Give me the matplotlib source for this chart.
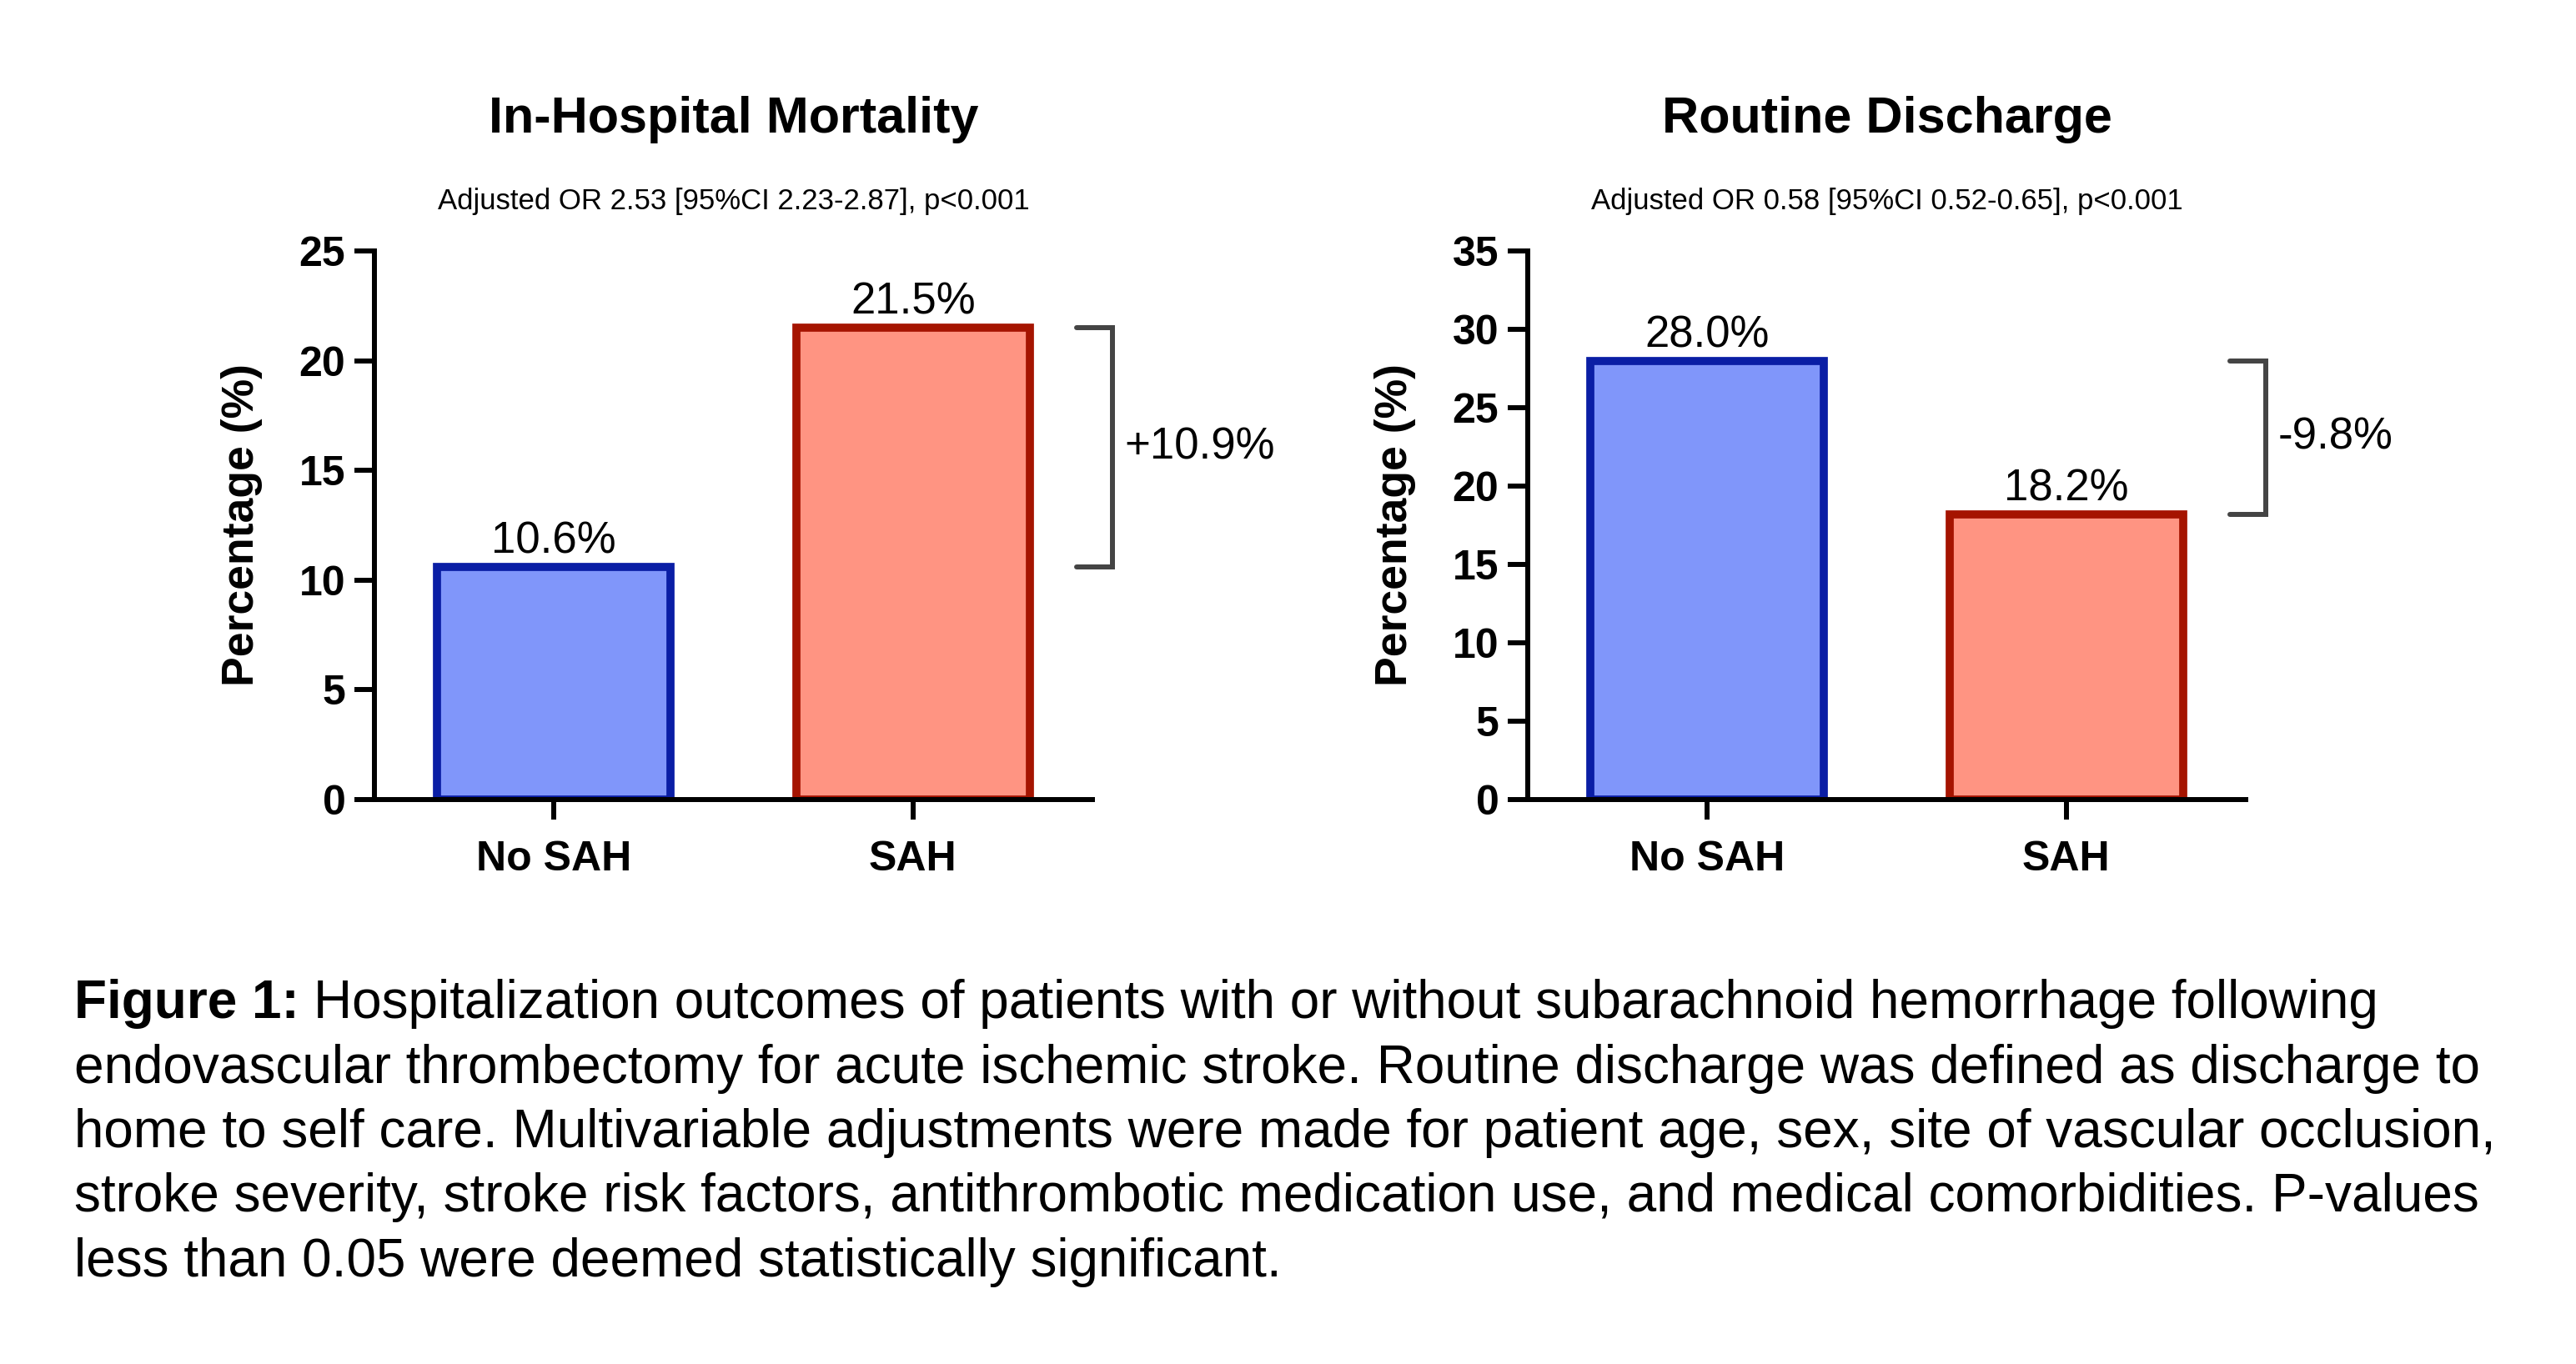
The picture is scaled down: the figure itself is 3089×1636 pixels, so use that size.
import matplotlib.pyplot as plt
import numpy as np

plt.rcParams['font.family'] = ['Liberation Sans', 'DejaVu Sans']

# ---- data ----
groups = ['No SAH', 'SAH']
mortality = [10.6, 21.5]
discharge = [28.0, 18.2]
titles = ['In-Hospital Mortality', 'Routine Discharge']
subtitles = ['Adjusted OR 2.53 [95%CI 2.23-2.87], p<0.001',
             'Adjusted OR 0.58 [95%CI 0.52-0.65], p<0.001']
diff_labels = ['+10.9%', '-9.8%']
ylims = [25, 35]

fill_colors = ['#8096FA', '#FF9482']
edge_colors = ['#0A1EA5', '#A51400']
bracket_color = '#444444'

caption_lines = [
    'Hospitalization outcomes of patients with or without subarachnoid hemorrhage following',
    'endovascular thrombectomy for acute ischemic stroke. Routine discharge was defined as discharge to',
    'home to self care. Multivariable adjustments were made for patient age, sex, site of vascular occlusion,',
    'stroke severity, stroke risk factors, antithrombotic medication use, and medical comorbidities. P-values',
    'less than 0.05 were deemed statistically significant.',
]

W, H = 3089, 1636
fig = plt.figure(figsize=(W / 100, H / 100), dpi=100)

axes_boxes = [
    [449 / W, 1 - 959 / H, (1310 - 449) / W, (959 - 301) / H],
    [1832 / W, 1 - 959 / H, (2693 - 1832) / W, (959 - 301) / H],
]

for k, vals in enumerate([mortality, discharge]):
    ax = fig.add_axes(axes_boxes[k])
    x = np.arange(len(groups))
    ax.bar(x, vals, width=0.65, color=fill_colors, edgecolor=edge_colors,
           linewidth=7, zorder=2)
    for xi, v in zip(x, vals):
        ax.annotate(f'{v:.1f}%', xy=(xi, v), xytext=(0, 4), textcoords='offset points',
                    ha='center', va='bottom', fontsize=38)

    ax.set_xlim(-0.5, 1.5)
    ax.set_ylim(0, ylims[k])
    ax.set_yticks(np.arange(0, ylims[k] + 1, 5))
    ax.set_xticks(x)
    ax.set_xticklabels(groups)
    for lab in ax.get_xticklabels() + ax.get_yticklabels():
        lab.set_fontweight('bold')
    ax.tick_params(axis='both', labelsize=36, width=4.3, length=17)
    ax.tick_params(axis='y', pad=8)
    ax.tick_params(axis='x', pad=18)
    for side in ['top', 'right']:
        ax.spines[side].set_visible(False)
    for side in ['left', 'bottom']:
        ax.spines[side].set_linewidth(4.3)

    ax.set_ylabel('Percentage (%)', fontsize=38.5, fontweight='bold')
    ax.yaxis.set_label_coords(-0.156, 0.5)

    # bracket showing difference
    lo, hi = min(vals), max(vals)
    bx, bl = 1.555, 1.457
    ax.plot([bl, bx, bx, bl], [hi, hi, lo, lo], color=bracket_color, lw=4.3,
            solid_capstyle='round', solid_joinstyle='miter', clip_on=False)
    ax.text(1.59, (lo + hi) / 2, diff_labels[k], fontsize=38, ha='left', va='center')

    cx = axes_boxes[k][0] + axes_boxes[k][2] / 2
    fig.text(cx, 1 - 144 / H, titles[k], ha='center', va='center',
             fontsize=44, fontweight='bold')
    fig.text(cx, 1 - 242 / H, subtitles[k], ha='center', va='center', fontsize=25)

# caption
x0 = 89 / W
base0 = 1221
step = 77.5
fs = 46
bold = fig.text(x0, 1 - base0 / H, 'Figure 1: ', fontsize=fs, fontweight='bold',
                ha='left', va='baseline')
fig.canvas.draw()
bb = bold.get_window_extent()
fig.text(bb.x1 / W, 1 - base0 / H, caption_lines[0], fontsize=fs, ha='left', va='baseline')
for i, line in enumerate(caption_lines[1:], start=1):
    fig.text(x0, 1 - (base0 + i * step) / H, line, fontsize=fs, ha='left', va='baseline')

fig.savefig('out.png', dpi=100, facecolor='white')
